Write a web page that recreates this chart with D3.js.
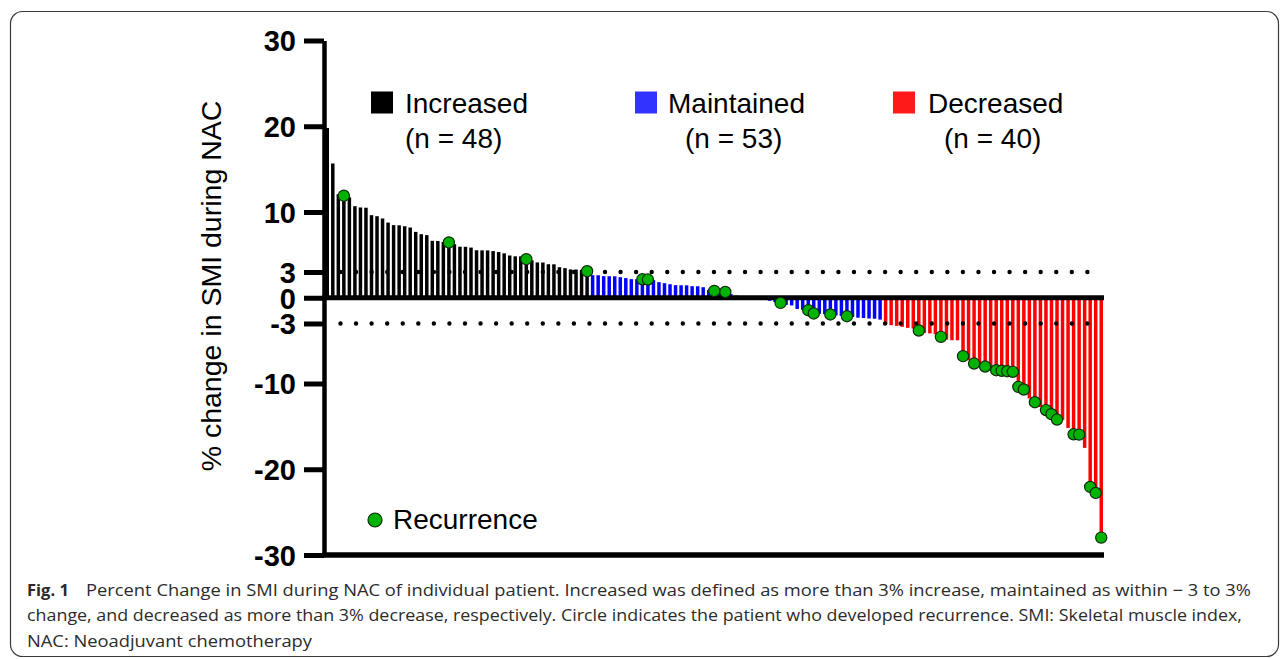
<!DOCTYPE html>
<html><head><meta charset="utf-8">
<script src="https://cdn.jsdelivr.net/npm/d3@7"></script>
<style>body{margin:0;background:#fff} svg{display:block}</style>
</head><body>
<svg id="chart" width="1287" height="659"></svg>
<script>
// ---- data (percent change in SMI, ranked) ----
const increased = [19.8, 15.66, 12.08, 11.9, 11.7, 10.68, 10.53, 10.5, 9.63, 9.51,
  9.24, 8.77, 8.47, 8.45, 8.34, 8.19, 7.68, 7.41, 7.3, 6.64,
  6.62, 6.51, 6.45, 6.25, 5.95, 5.94, 5.85, 5.54, 5.53, 5.52,
  5.44, 5.33, 5.18, 4.93, 4.83, 4.82, 4.5, 4.37, 4.12, 4.11,
  3.91, 3.9, 3.56, 3.46, 3.3, 3.29, 3.25, 3.1];
const maintained = [2.63, 2.62, 2.52, 2.51, 2.5, 2.4, 2.29, 2.17, 2.16, 2.15,
  2.12, 2.05, 1.82, 1.7, 1.58, 1.47, 1.46, 1.45, 1.35, 1.34,
  1.23, 0.92, 0.8, 0.7, 0.68, 0.45, 0.25, 0.18, 0.12, 0.06,
  0.02, -0.08, -0.35, -0.5, -0.6, -0.83, -0.9, -1.3, -1.4, -1.45,
  -1.83, -1.87, -1.92, -1.95, -2.06, -2.12, -2.15, -2.25, -2.33, -2.36,
  -2.42, -2.45, -2.55];
const decreased = [-3.12, -3.2, -3.28, -3.39, -3.51, -3.59, -3.82, -4.1, -4.16, -4.25,
  -4.56, -4.87, -4.95, -4.96, -6.81, -7.28, -7.67, -7.86, -8.02, -8.25,
  -8.45, -8.52, -8.57, -8.64, -10.39, -10.7, -11.74, -12.18, -12.73, -13.1,
  -13.58, -14.2, -14.27, -15.18, -15.92, -15.96, -17.51, -22.06, -22.76, -27.97];
// rank (1-based, across all patients) of patients who developed recurrence
const recurrence = [4, 23, 37, 48, 58, 59, 71, 73, 83, 88, 89, 92, 95,
  108, 112, 116, 118, 120, 122, 123, 124, 125, 126, 127, 129, 131, 132, 133,
  136, 137, 139, 140, 141];
const yTicks = [30, 20, 10, 3, 0, -3, -10, -20, -30];
const thresholds = [3, -3];
const groupNames = ["Increased", "Maintained", "Decreased"];
const groupCounts = [48, 53, 40];
const groupColors = ["#000000", "#0000ff", "#ff0000"];
const legendColors = ["#000000", "#3333ff", "#ff1a1a"];
const yTitle = "% change in SMI during NAC";
const captionBold = "Fig. 1";
const captionLines = [
  "Percent Change in SMI during NAC of individual patient. Increased was defined as more than 3% increase, maintained as within \u2212 3 to 3%",
  "change, and decreased as more than 3% decrease, respectively. Circle indicates the patient who developed recurrence. SMI: Skeletal muscle index,",
  "NAC: Neoadjuvant chemotherapy"
];

// ---- build rows ----
const groups = [increased, maintained, decreased];
const rows = [];
groups.forEach((arr, gi) => arr.forEach(v => rows.push({rank: rows.length + 1, value: v, group: gi})));
const recSet = new Set(recurrence);

const svg = d3.select("#chart");
const AX = 324;
const x = d3.scaleBand().domain(rows.map(d => d.rank)).range([324.5, 1104]).paddingInner(0.37).paddingOuter(0.185);
const y = d3.scaleLinear().domain([-30, 30]).range([555, 40.5]);

// frame
svg.append("rect").attr("x", 10.5).attr("y", 11.5).attr("width", 1268).attr("height", 645)
  .attr("rx", 12).attr("fill", "none").attr("stroke", "#3a3a3a").attr("stroke-width", 1.2);

// bars
svg.append("g").selectAll("rect").data(rows).join("rect")
  .attr("x", d => x(d.rank))
  .attr("width", x.bandwidth())
  .attr("y", d => Math.min(y(0), y(d.value)))
  .attr("height", d => Math.abs(y(d.value) - y(0)))
  .attr("fill", d => groupColors[d.group]);

// zero line and bottom line
const xr = [AX - 2, 1104];
svg.append("line").attr("x1", xr[0]).attr("x2", xr[1]).attr("y1", y(0)).attr("y2", y(0))
  .attr("stroke", "#000").attr("stroke-width", 5);
svg.append("line").attr("x1", xr[0]).attr("x2", xr[1]).attr("y1", y(-30)).attr("y2", y(-30))
  .attr("stroke", "#000").attr("stroke-width", 5.5);

// dotted threshold lines
svg.append("g").selectAll("line").data(thresholds).join("line")
  .attr("x1", 340.5).attr("x2", 1090).attr("y1", d => y(d)).attr("y2", d => y(d))
  .attr("stroke", "#000").attr("stroke-width", 4.4).attr("stroke-linecap", "round")
  .attr("stroke-dasharray", "0 15.56");

// y axis
const yAxis = d3.axisLeft(y).tickValues(yTicks).tickSize(20).tickSizeOuter(0).tickPadding(8)
  .tickFormat(d3.format("d"));
const gA = svg.append("g").attr("transform", `translate(${AX},0)`).call(yAxis);
gA.select(".domain").attr("stroke", "#000").attr("stroke-width", 4.5);
gA.selectAll(".tick line").attr("stroke", "#000").attr("stroke-width", 5);
gA.selectAll(".tick text").attr("fill", "#000")
  .style("font-family", "'Liberation Sans', Arial, sans-serif")
  .style("font-weight", "bold").style("font-size", "29px")
  .attr("dy", "0.36em")
  .text(d => d < 0 ? "-" + Math.abs(d) : d);

// y title
svg.append("text").attr("transform", `translate(221,${286}) rotate(-90)`)
  .attr("text-anchor", "middle")
  .style("font-family", "'Liberation Sans', Arial, sans-serif").style("font-size", "28.5px")
  .attr("fill", "#000").text(yTitle);

// recurrence dots
svg.append("g").selectAll("circle").data(rows.filter(d => recSet.has(d.rank))).join("circle")
  .attr("cx", d => x(d.rank) + x.bandwidth() / 2)
  .attr("cy", d => y(d.value))
  .attr("r", 5.6)
  .attr("fill", "#00b300").attr("stroke", "#0d2a0d").attr("stroke-width", 1.2);

// group legend
const legX = [371, 635, 893];
const legTextX = [405, 668, 928];
const legNX = [405, 685, 944];
const lg = svg.append("g").style("font-family", "'Liberation Sans', Arial, sans-serif").style("font-size", "28px");
groupNames.forEach((name, i) => {
  lg.append("rect").attr("x", legX[i]).attr("y", 91.5).attr("width", 22).attr("height", 22).attr("fill", legendColors[i]);
  lg.append("text").attr("x", legTextX[i]).attr("y", 113).attr("fill", "#000").text(name);
  lg.append("text").attr("x", legNX[i]).attr("y", 148).attr("fill", "#000").text(`(n = ${groupCounts[i]})`);
});
// recurrence legend
lg.append("circle").attr("cx", 375).attr("cy", 520).attr("r", 7)
  .attr("fill", "#00b300").attr("stroke", "#0d2a0d").attr("stroke-width", 1.2);
lg.append("text").attr("x", 393).attr("y", 529).attr("fill", "#000").text("Recurrence");

// caption
const cap = svg.append("g").style("font-family", "'Open Sans', 'Noto Sans', sans-serif").style("font-size", "16.5px").attr("fill", "#2b2b2b");
cap.append("text").attr("x", 27).attr("y", 596).style("font-weight", "bold").text(captionBold);
const capX = [86, 27, 27], capY = [596, 621, 647], capLen = [1165, 1215, 285];
captionLines.forEach((t, i) => {
  cap.append("text").attr("x", capX[i]).attr("y", capY[i])
    .attr("textLength", capLen[i]).attr("lengthAdjust", "spacingAndGlyphs").text(t);
});
</script>
</body></html>
